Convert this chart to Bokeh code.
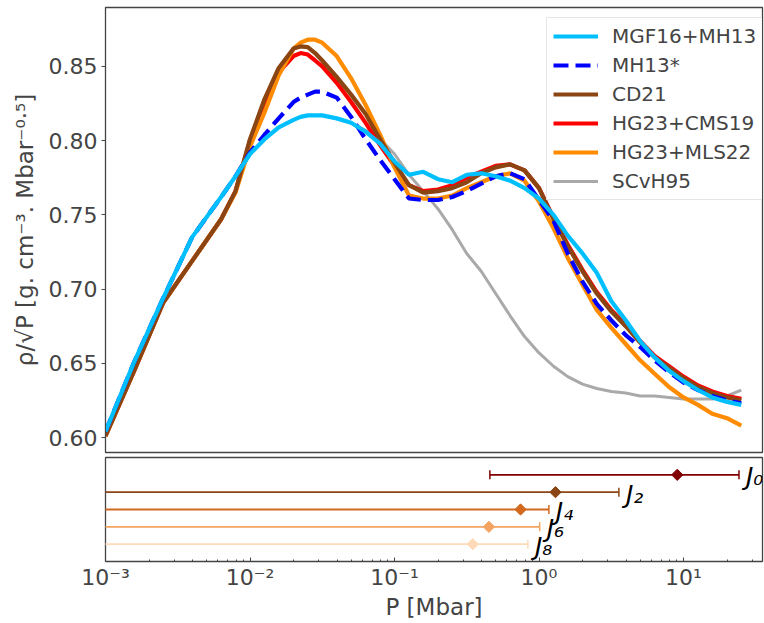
import math
from bokeh.plotting import figure
from bokeh.layouts import column
from bokeh.models import (Range1d, FixedTicker, PrintfTickFormatter, CustomJSTickFormatter,
                          Legend, LegendItem, ColumnDataSource)
from bokeh.core.properties import value
from bokeh.embed import file_html
from bokeh.resources import INLINE

# ---------------- data ----------------
P = [0.001, 0.00158, 0.00251, 0.00398, 0.00631, 0.00794, 0.01, 0.0126, 0.0158, 0.02,
     0.0224, 0.0251, 0.0282, 0.0316, 0.0398, 0.0501, 0.0631, 0.0794, 0.1, 0.126,
     0.158, 0.2, 0.251, 0.316, 0.398, 0.501, 0.631, 0.794, 1.0, 1.26,
     1.58, 2.0, 2.51, 3.16, 3.98, 5.01, 6.31, 7.94, 10.0, 12.6,
     15.8, 20.0, 25.1]

MGF16_MH13 = [0.604, 0.651, 0.694, 0.735, 0.762, 0.776, 0.791, 0.801, 0.809, 0.814,
              0.816, 0.817, 0.817, 0.817, 0.815, 0.812, 0.806, 0.798, 0.786, 0.777,
              0.779, 0.774, 0.772, 0.777, 0.778, 0.776, 0.773, 0.768, 0.761, 0.750,
              0.736, 0.724, 0.711, 0.692, 0.679, 0.665, 0.654, 0.645, 0.638, 0.632,
              0.627, 0.624, 0.622]
MH13_STAR = [0.604, 0.651, 0.694, 0.735, 0.762, 0.776, 0.792, 0.804, 0.815, 0.826,
             0.829, 0.831, 0.833, 0.833, 0.829, 0.816, 0.801, 0.787, 0.774, 0.761,
             0.760, 0.760, 0.762, 0.766, 0.771, 0.776, 0.778, 0.774, 0.760, 0.746,
             0.724, 0.705, 0.690, 0.679, 0.669, 0.661, 0.652, 0.644, 0.637, 0.632,
             0.628, 0.625, 0.623]
CD21 = [0.601, 0.645, 0.691, 0.719, 0.747, 0.766, 0.801, 0.828, 0.849, 0.862,
        0.8635, 0.863, 0.859, 0.854, 0.843, 0.831, 0.818, 0.801, 0.785, 0.770,
        0.765, 0.766, 0.768, 0.772, 0.778, 0.782, 0.784, 0.780, 0.768, 0.747,
        0.729, 0.712, 0.697, 0.685, 0.675, 0.664, 0.654, 0.647, 0.640, 0.634,
        0.630, 0.627, 0.625]
HG23_CMS19 = [0.601, 0.645, 0.691, 0.719, 0.747, 0.766, 0.800, 0.826, 0.846, 0.857,
              0.859, 0.858, 0.854, 0.850, 0.839, 0.826, 0.812, 0.797, 0.783, 0.770,
              0.766, 0.767, 0.770, 0.775, 0.779, 0.783, 0.784, 0.780, 0.768, 0.748,
              0.730, 0.713, 0.698, 0.686, 0.676, 0.665, 0.655, 0.648, 0.641, 0.635,
              0.631, 0.628, 0.626]
HG23_MLS22 = [0.601, 0.645, 0.691, 0.719, 0.747, 0.765, 0.796, 0.819, 0.844, 0.862,
              0.866, 0.868, 0.868, 0.866, 0.857, 0.842, 0.824, 0.804, 0.782, 0.763,
              0.761, 0.761, 0.763, 0.768, 0.772, 0.776, 0.778, 0.773, 0.759, 0.741,
              0.721, 0.703, 0.686, 0.674, 0.663, 0.652, 0.643, 0.634, 0.627, 0.622,
              0.616, 0.613, 0.608]
SCVH95 = [0.604, 0.651, 0.694, 0.735, 0.762, 0.776, 0.791, 0.801, 0.809, 0.814,
          0.816, 0.817, 0.817, 0.817, 0.815, 0.812, 0.807, 0.801, 0.791, 0.777,
          0.766, 0.754, 0.740, 0.724, 0.712, 0.697, 0.682, 0.668, 0.657, 0.648,
          0.641, 0.636, 0.633, 0.631, 0.630, 0.628, 0.628, 0.627, 0.626, 0.626,
          0.626, 0.628, 0.632]

J_LABELS = ["J₀", "J₂", "J₄", "J₆", "J₈"]
J_CENTER = [9.05, 1.30, 0.745, 0.450, 0.348]
J_LOW = [0.457, 1e-5, 1e-5, 1e-5, 1e-5]
J_HIGH = [24.2, 3.57, 1.17, 1.01, 0.838]
J_ROW = [5, 4, 3, 2, 1]
J_COLORS = ["maroon", "saddlebrown", "chocolate", "sandybrown", "peachpuff"]

YTICKS = [0.60, 0.65, 0.70, 0.75, 0.80, 0.85]
XTICKS = [0.001, 0.01, 0.1, 1, 10]
XMINOR = [m * d for d in [0.001, 0.01, 0.1, 1, 10] for m in range(2, 10) if m * d < 36]

FONT = "DejaVu Sans"
SPINE = "#444444"
x_range = Range1d(1e-3, 35.2)

# ---------------- top panel ----------------
p1 = figure(width=764, height=454, x_axis_type="log", x_range=x_range,
            y_range=Range1d(0.5899, 0.8897), output_backend="svg", toolbar_location=None,
            min_border_left=105, min_border_right=2, min_border_top=7, min_border_bottom=2)
p1.grid.visible = False
p1.outline_line_color = SPINE
p1.outline_line_width = 1.3
p1.outline_line_alpha = 1
p1.xaxis.visible = False
p1.yaxis.ticker = FixedTicker(ticks=YTICKS)
p1.yaxis.formatter = PrintfTickFormatter(format="%.2f")
p1.yaxis.major_label_text_font = FONT
p1.yaxis.major_label_text_font_size = "22px"
p1.yaxis.major_label_standoff = 4
p1.yaxis.major_tick_out = 4
p1.yaxis.major_tick_in = 0
p1.yaxis.minor_tick_out = 0
p1.yaxis.minor_tick_in = 0
p1.yaxis.axis_line_color = SPINE
p1.yaxis.major_tick_line_color = SPINE
p1.yaxis.axis_label = "ρ/√P [g. cm⁻³. Mbar⁻⁰·⁵]"
p1.yaxis.axis_label_text_font = FONT
p1.yaxis.axis_label_text_font_style = "normal"
p1.yaxis.axis_label_text_font_size = "23px"
p1.yaxis.axis_label_standoff = 8

src = ColumnDataSource(dict(P=P, a=MGF16_MH13, b=MH13_STAR, c=CD21, d=HG23_CMS19,
                            e=HG23_MLS22, f=SCVH95))
r_gray = p1.line("P", "f", source=src, line_color="darkgray", line_width=3)
r_red = p1.line("P", "d", source=src, line_color="red", line_width=4.2)
r_orange = p1.line("P", "e", source=src, line_color="darkorange", line_width=4.2)
r_brown = p1.line("P", "c", source=src, line_color="saddlebrown", line_width=4.2)
r_dash = p1.line("P", "b", source=src, line_color="blue", line_width=4.2, line_dash="15 7")
r_cyan = p1.line("P", "a", source=src, line_color="deepskyblue", line_width=4.2)

legend = Legend(items=[
    LegendItem(label="MGF16+MH13", renderers=[r_cyan]),
    LegendItem(label="MH13*", renderers=[r_dash]),
    LegendItem(label="CD21", renderers=[r_brown]),
    LegendItem(label="HG23+CMS19", renderers=[r_red]),
    LegendItem(label="HG23+MLS22", renderers=[r_orange]),
    LegendItem(label="SCvH95", renderers=[r_gray]),
], location=(441, 252))
legend.label_text_font = FONT
legend.label_text_font_size = "20px"
legend.glyph_width = 45
legend.glyph_height = 20
legend.label_height = 20
legend.label_standoff = 14
legend.spacing = 5
legend.padding = 6
legend.margin = 0
legend.border_line_color = "#cccccc"
legend.border_line_width = 1
legend.background_fill_alpha = 0.8
p1.add_layout(legend)

# ---------------- bottom panel ----------------
p2 = figure(width=764, height=168, x_axis_type="log", x_range=x_range,
            y_range=Range1d(0, 6), output_backend="svg", toolbar_location=None,
            min_border_left=105, min_border_right=2, min_border_top=3, min_border_bottom=58)
p2.grid.visible = False
p2.outline_line_color = SPINE
p2.outline_line_width = 1.3
p2.outline_line_alpha = 1
p2.yaxis.visible = False
p2.xaxis.ticker = FixedTicker(ticks=XTICKS, minor_ticks=XMINOR)
p2.xaxis.formatter = CustomJSTickFormatter(code="""
const sup = {"-":"\u207b","0":"\u2070","1":"\u00b9","2":"\u00b2","3":"\u00b3","4":"\u2074",
             "5":"\u2075","6":"\u2076","7":"\u2077","8":"\u2078","9":"\u2079"};
const e = Math.round(Math.log10(tick));
return "10" + String(e).split("").map(c => sup[c]).join("");
""")
p2.xaxis.major_label_text_font = FONT
p2.xaxis.major_label_text_font_size = "22px"
p2.xaxis.major_label_standoff = 3
p2.xaxis.major_tick_in = 4
p2.xaxis.major_tick_out = 0
p2.xaxis.minor_tick_in = 2
p2.xaxis.minor_tick_out = 0
p2.xaxis.axis_line_color = SPINE
p2.xaxis.major_tick_line_color = SPINE
p2.xaxis.minor_tick_line_color = SPINE
p2.xaxis.axis_label = "P [Mbar]"
p2.xaxis.axis_label_text_font = FONT
p2.xaxis.axis_label_text_font_style = "normal"
p2.xaxis.axis_label_text_font_size = "23px"
p2.xaxis.axis_label_standoff = 1

jsrc = ColumnDataSource(dict(c=J_CENTER, lo=J_LOW, hi=J_HIGH, y=J_ROW, col=J_COLORS, lab=J_LABELS))
p2.segment(x0="lo", y0="y", x1="hi", y1="y", source=jsrc, line_color="col", line_width=1.8)
p2.scatter(x="hi", y="y", source=jsrc, marker="dash", angle=math.pi / 2, size=9,
           line_color="col", line_width=1.5)
p2.scatter(x="lo", y="y", source=jsrc, marker="dash", angle=math.pi / 2, size=9,
           line_color="col", line_width=1.5)
p2.scatter(x="c", y="y", source=jsrc, marker="square", angle=math.pi / 4, size=8,
           fill_color="col", line_color="col")
p2.text(x="hi", y="y", text="lab", source=jsrc, x_offset=7, y_offset=2, text_baseline="middle",
        text_font=value(FONT), text_font_style="italic", text_font_size="25px",
        text_color="black")

layout = column(p1, p2, spacing=0)
open("out.html", "w").write(file_html(layout, INLINE))
